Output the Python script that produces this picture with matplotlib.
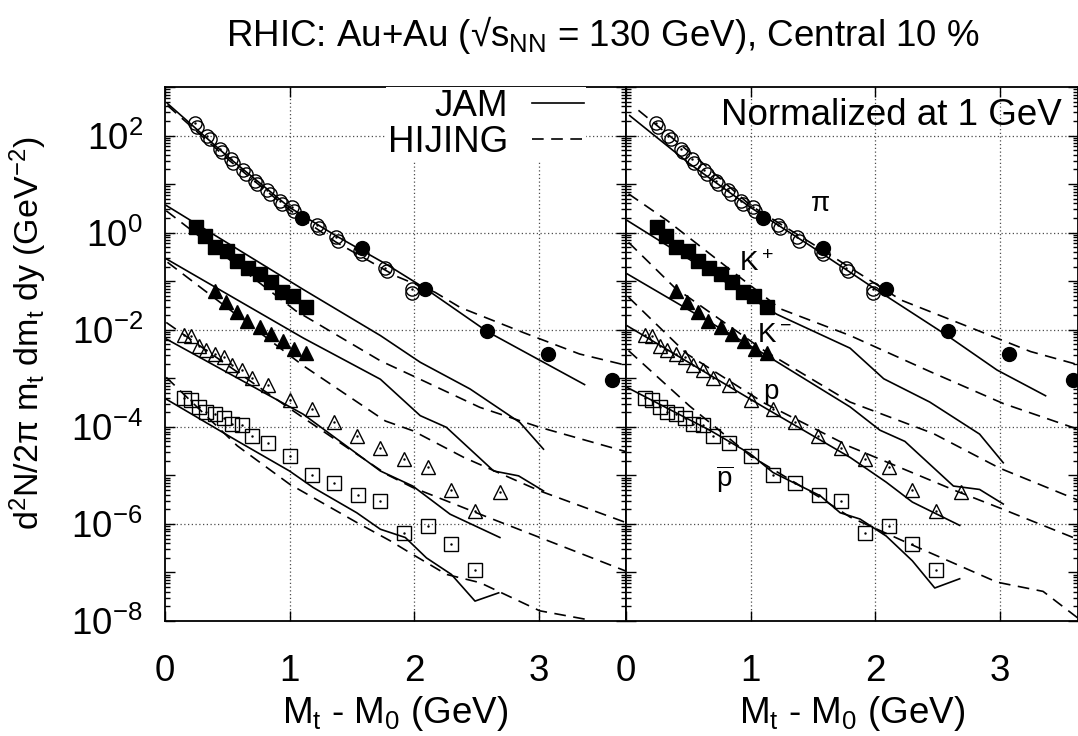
import numpy as np
import matplotlib.pyplot as plt
from matplotlib.ticker import FixedLocator, LogLocator, NullFormatter, FuncFormatter

plt.rcParams['font.family'] = ['Liberation Sans', 'DejaVu Sans']
plt.rcParams['mathtext.fontset'] = 'custom'
plt.rcParams['mathtext.rm'] = 'Liberation Sans'
plt.rcParams['mathtext.it'] = 'Liberation Sans:italic'
plt.rcParams['mathtext.bf'] = 'Liberation Sans:bold'

# ---- measured spectra (x = Mt - M0 in GeV, log10 of the yield) ----
pi_x = [0.24, 0.34, 0.44, 0.53, 0.63, 0.72, 0.82, 0.92, 1.02, 1.22, 1.37, 1.57, 1.77, 1.98]
pi_ly = [2.26, 1.99, 1.73, 1.51, 1.28, 1.07, 0.87, 0.66, 0.52, 0.16, -0.10, -0.37, -0.72, -1.16]
pi2_x = [0.26, 0.36, 0.46, 0.55, 0.65, 0.74, 0.84, 0.94, 1.04, 1.24, 1.39, 1.58, 1.78, 1.98]
pi2_ly = [2.18, 1.92, 1.66, 1.44, 1.21, 1.00, 0.80, 0.59, 0.45, 0.09, -0.17, -0.44, -0.78, -1.24]
pihi_x = [1.10, 1.58, 2.09, 2.59, 3.08, 3.59]
pihi_ly = [0.30, -0.32, -1.16, -2.03, -2.49, -3.03]
kp_x = [0.25, 0.32, 0.40, 0.50, 0.58, 0.67, 0.76, 0.85, 0.94, 1.03, 1.13]
kp_ly = [0.11, -0.06, -0.30, -0.37, -0.58, -0.72, -0.85, -1.01, -1.23, -1.30, -1.53]
km_x = [0.40, 0.49, 0.58, 0.66, 0.76, 0.85, 0.95, 1.04, 1.13]
km_ly = [-1.20, -1.42, -1.64, -1.83, -1.95, -2.09, -2.23, -2.39, -2.47]
pr_x = [0.15, 0.21, 0.27, 0.33, 0.40, 0.47, 0.54, 0.62, 0.70, 0.83, 1.00, 1.18, 1.36,
        1.54, 1.73, 1.92, 2.11, 2.30, 2.49, 2.69]
pr_ly = [-2.10, -2.12, -2.33, -2.42, -2.50, -2.57, -2.73, -2.83, -3.00, -3.13, -3.44, -3.64,
         -3.91, -4.19, -4.43, -4.67, -4.82, -5.31, -5.73, -5.34]
pb_x = [0.15, 0.21, 0.27, 0.33, 0.40, 0.47, 0.54, 0.62, 0.70, 0.83, 1.00, 1.18, 1.36,
        1.55, 1.73, 1.92, 2.11, 2.30, 2.49]
pb_ly = [-3.41, -3.45, -3.59, -3.69, -3.74, -3.81, -3.94, -3.96, -4.19, -4.34, -4.60, -4.99,
         -5.16, -5.40, -5.53, -6.19, -6.04, -6.41, -6.95]

# ---- model curves, left panel (absolute) ----
jam_pi_x = [0.02, 0.52, 1.00, 1.37, 1.77, 2.09, 2.59, 2.99, 3.37]
jam_pi_ly = [2.66, 1.53, 0.52, -0.06, -0.64, -1.15, -2.04, -2.60, -3.13]
hij_pi_x = [0.02, 0.52, 1.00, 1.37, 1.85, 2.17, 2.37, 2.88, 3.33, 3.70]
hij_pi_ly = [2.62, 1.48, 0.47, -0.19, -0.89, -1.23, -1.54, -2.06, -2.50, -2.73]
jam_kp_x = [0.01, 1.11, 1.73, 2.05, 2.45, 2.85, 3.04]
jam_kp_ly = [0.56, -1.17, -2.12, -2.67, -3.22, -3.91, -4.46]
hij_kp_x = [0.01, 1.05, 1.73, 1.99, 2.53, 3.01, 3.70]
hij_kp_ly = [0.45, -1.61, -2.64, -2.95, -3.60, -4.01, -4.51]
jam_km_x = [0.01, 1.11, 1.73, 2.05, 2.26, 2.64, 2.84, 3.04]
jam_km_ly = [-0.54, -2.17, -3.02, -3.77, -4.01, -4.91, -5.01, -5.32]
hij_km_x = [0.02, 1.11, 1.77, 1.99, 2.40, 3.01, 3.70]
hij_km_ly = [-0.61, -2.74, -3.88, -4.08, -4.63, -5.32, -5.97]
jam_pr_x = [0.01, 1.11, 1.73, 1.99, 2.29, 2.69]
jam_pr_ly = [-2.19, -3.74, -4.91, -5.22, -5.80, -6.28]
hij_pr_x = [0.01, 1.00, 1.78, 1.99, 2.53, 3.01, 3.70]
hij_pr_ly = [-1.85, -3.62, -4.98, -5.25, -5.80, -6.28, -6.97]
jam_pb_x = [0.01, 0.58, 1.00, 1.19, 1.54, 1.73, 1.93, 2.10, 2.30, 2.49, 2.68]
jam_pb_ly = [-3.43, -4.29, -4.91, -5.25, -5.77, -6.11, -6.28, -6.70, -7.04, -7.59, -7.42]
hij_pb_x = [0.01, 0.58, 1.00, 1.54, 1.81, 1.99, 2.26, 2.53, 3.01, 3.39, 3.55]
hij_pb_ly = [-2.98, -4.39, -5.18, -5.97, -6.35, -6.63, -7.04, -7.21, -7.79, -7.97, -8.20]

# ---- model curves, right panel (normalized at 1 GeV) ----
njam_pi_x = [0.03, 0.51, 1.00, 1.48, 1.96, 2.58, 2.98, 3.37]
njam_pi_ly = [2.41, 1.42, 0.52, -0.27, -1.09, -2.12, -2.83, -3.36]
nhij_pi_x = [0.10, 0.59, 1.00, 1.56, 2.21, 2.82, 3.25, 3.63]
nhij_pi_ly = [2.52, 1.49, 0.56, -0.33, -1.39, -2.01, -2.45, -2.72]
njam_kp_x = [0.01, 0.59, 1.21, 1.80, 2.07, 2.44, 2.84, 3.03]
njam_kp_ly = [0.25, -0.68, -1.68, -2.38, -3.01, -3.49, -4.15, -4.74]
nhij_kp_x = [0.02, 0.33, 1.24, 1.80, 2.44, 3.03, 3.63]
nhij_kp_ly = [0.80, 0.25, -1.57, -2.12, -2.86, -3.52, -4.05]
njam_km_x = [0.01, 1.11, 1.80, 2.04, 2.24, 2.63, 2.84, 3.03]
njam_km_ly = [-0.85, -2.50, -3.59, -4.07, -4.30, -5.22, -5.29, -5.59]
nhij_km_x = [0.02, 0.39, 1.11, 1.80, 2.47, 3.00, 3.63]
nhij_km_ly = [-0.20, -1.13, -2.43, -3.49, -4.14, -4.85, -5.51]
njam_pr_x = [0.01, 1.11, 1.80, 2.09, 2.30, 2.68]
njam_pr_ly = [-1.92, -3.60, -4.63, -5.14, -5.55, -6.03]
nhij_pr_x = [0.02, 0.49, 1.11, 1.80, 2.66, 3.00, 3.63]
nhij_pr_ly = [-1.33, -2.50, -3.51, -4.41, -5.33, -5.67, -6.32]
njam_pb_x = [0.01, 0.68, 1.00, 1.18, 1.56, 1.72, 1.88, 2.09, 2.30, 2.48, 2.68]
njam_pb_ly = [-3.19, -4.08, -4.56, -4.94, -5.42, -5.77, -5.90, -6.25, -6.76, -7.32, -7.13]
nhij_pb_x = [0.02, 0.51, 1.00, 1.56, 1.80, 2.26, 2.98, 3.35, 3.63]
nhij_pb_ly = [-2.43, -3.57, -4.60, -5.46, -5.86, -6.39, -7.20, -7.39, -7.94]

left_curves = [(jam_pi_x, jam_pi_ly, hij_pi_x, hij_pi_ly),
               (jam_kp_x, jam_kp_ly, hij_kp_x, hij_kp_ly),
               (jam_km_x, jam_km_ly, hij_km_x, hij_km_ly),
               (jam_pr_x, jam_pr_ly, hij_pr_x, hij_pr_ly),
               (jam_pb_x, jam_pb_ly, hij_pb_x, hij_pb_ly)]
right_curves = [(njam_pi_x, njam_pi_ly, nhij_pi_x, nhij_pi_ly),
                (njam_kp_x, njam_kp_ly, nhij_kp_x, nhij_kp_ly),
                (njam_km_x, njam_km_ly, nhij_km_x, nhij_km_ly),
                (njam_pr_x, njam_pr_ly, nhij_pr_x, nhij_pr_ly),
                (njam_pb_x, njam_pb_ly, nhij_pb_x, nhij_pb_ly)]

FS = 26.5
W, H = 1078, 736
fig = plt.figure(figsize=(W / 100, H / 100), dpi=100)
axL = fig.add_axes([165 / W, 1 - 621 / H, (626 - 165) / W, (621 - 87) / H])
axR = fig.add_axes([626 / W, 1 - 621 / H, (1078 - 626) / W, (621 - 87) / H])


def ylab(v, pos):
    e = int(round(np.log10(v)))
    return f'$10^{{{e}}}$' if e % 2 == 0 else ''


def dec(ly):
    return 10.0 ** np.asarray(ly)


def setup(ax, xmax, labels):
    ax.set_yscale('log')
    ax.set_xlim(0, xmax)
    ax.set_ylim(1e-8, 1e3)
    ax.xaxis.set_major_locator(FixedLocator([0, 1, 2, 3]))
    ax.yaxis.set_major_locator(FixedLocator([10.0 ** e for e in range(-8, 4)]))
    ax.yaxis.set_minor_locator(LogLocator(base=10, subs=np.arange(2, 10) * 1.0, numticks=40))
    ax.yaxis.set_minor_formatter(NullFormatter())
    if labels:
        ax.yaxis.set_major_formatter(FuncFormatter(ylab))
    else:
        ax.yaxis.set_major_formatter(NullFormatter())
    ax.tick_params(which='both', direction='in', top=True, right=True, width=1.0)
    ax.tick_params(which='major', length=7, labelsize=FS)
    ax.tick_params(axis='x', which='major', pad=24)
    ax.tick_params(axis='y', which='major', pad=16)
    ax.tick_params(which='minor', length=3.5)
    for s in ax.spines.values():
        s.set_linewidth(1.3)
    for v in [1, 2, 3]:
        ax.axvline(v, ls=(0, (1, 2)), lw=0.9, color='0.3', zorder=1)
    for e in [2, 0, -2, -4, -6]:
        ax.axhline(10.0 ** e, ls=(0, (1, 2)), lw=0.9, color='0.3', zorder=1)
    ax.set_xlabel(r'M$_\mathrm{t}$ - M$_\mathrm{0}$ (GeV)', fontsize=FS)
    ax.xaxis.set_label_coords(0.5, -(694 - 621) / (621 - 87))


def draw(ax, curves):
    hs = []
    for jx, jy, hx, hy in curves:
        a, = ax.plot(jx, dec(jy), color='k', lw=1.2, zorder=3)
        b, = ax.plot(hx, dec(hy), color='k', lw=1.2, dashes=(7, 4.5), zorder=3)
        hs = [a, b]
    op = dict(ls='none', mfc='none', mec='k', mew=1.0, zorder=4)
    ax.plot(pi_x, dec(pi_ly), marker='o', ms=9.5, **op)
    ax.plot(pi2_x, dec(pi2_ly), marker='o', ms=9.5, **op)
    ax.plot(pihi_x, dec(pihi_ly), 'o', ms=10, color='k', zorder=4)
    ax.plot(kp_x, dec(kp_ly), 's', ms=9.5, color='k', zorder=4)
    ax.plot(km_x, dec(km_ly), '^', ms=9.5, color='k', zorder=4)
    ax.plot(pr_x, dec(pr_ly), marker='^', ms=10, **op)
    ax.plot(pb_x, dec(pb_ly), marker='s', ms=9.5, **op)
    for xs, ys in [(pi_x, pi_ly), (pr_x, pr_ly), (pb_x, pb_ly)]:
        ax.plot(xs, dec(ys), '.', ms=1.5, color='k', zorder=5)
    return hs


setup(axL, (626 - 165) / 124.5, True)
setup(axR, (1078 - 626) / 124.5, False)
hs = draw(axL, left_curves)
draw(axR, right_curves)

leg = axL.legend(hs, ['JAM', 'HIJING'], loc='upper right', bbox_to_anchor=(0.913, 1.0),
                 markerfirst=False, fontsize=FS, frameon=True, fancybox=False,
                 edgecolor='none', facecolor='white', framealpha=1.0,
                 handlelength=1.41, handletextpad=0.65, borderpad=0.05, labelspacing=0.02,
                 borderaxespad=0.0)
leg.set_zorder(6)

axR.text(0.965, 0.929, 'Normalized at 1 GeV', transform=axR.transAxes, ha='right',
         va='baseline', fontsize=FS)
axR.text(1.566, 3.96, 'π', fontsize=20, ha='center', va='center')
axR.text(0.908, 0.164, 'K$^+$', fontsize=20, ha='left', va='baseline')
axR.text(1.05, 5.47e-3, 'K$^-$', fontsize=20, ha='left', va='baseline')
axR.text(1.10, 3.78e-4, 'p', fontsize=20, ha='left', va='baseline')
axR.text(0.72, 5.8e-6, r'$\overline{\mathrm{p}}$', fontsize=20, ha='left', va='baseline')

fig.text(603 / W, 1 - 35 / H, 'RHIC: Au+Au (\u221as$_\\mathrm{NN}$ = 130 GeV), Central 10 %',
         ha='center', va='center', fontsize=FS)
fig.text(28 / W, 1 - 333 / H, r'd$^2$N/2π m$_\mathrm{t}$ dm$_\mathrm{t}$ dy (GeV$^{-2}$)',
         rotation=90, ha='center', va='center', fontsize=24.5)

fig.savefig('out.png', dpi=100)
